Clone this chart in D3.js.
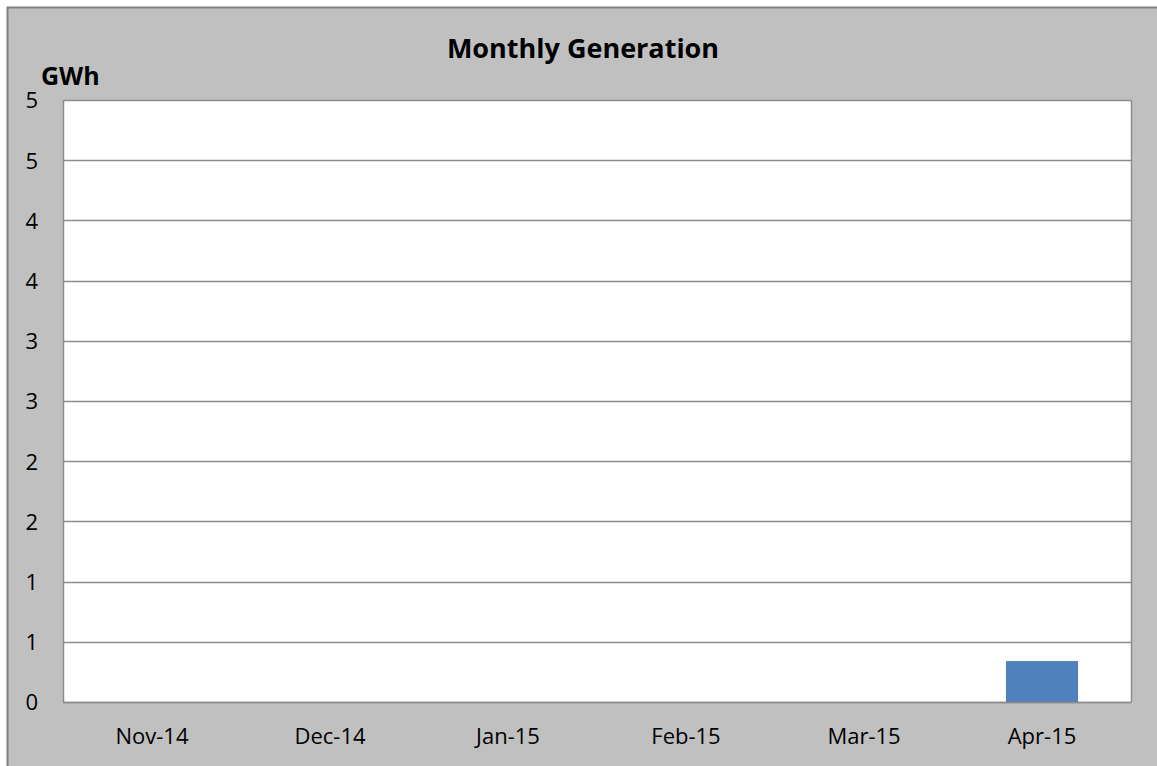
<!DOCTYPE html>
<html><head><meta charset="utf-8">
<script src="https://cdn.jsdelivr.net/npm/d3@7"></script>
<style>body{margin:0;background:#fff}svg{display:block}text{font-family:"Open Sans",sans-serif;fill:#000}</style>
</head><body><svg id="c" width="1157" height="766"></svg>
<script>
const categories = ["Nov-14","Dec-14","Jan-15","Feb-15","Mar-15","Apr-15"];
const values = [0, 0, 0, 0, 0, 0.34];
const yTicks = [0,0.5,1,1.5,2,2.5,3,3.5,4,4.5,5];
const title = "Monthly Generation";
const unit = "GWh";

const svg = d3.select("#c");
const W=1157,H=766;
svg.append("rect").attr("x",0).attr("y",0).attr("width",W).attr("height",H).attr("fill","#fff");
svg.append("rect").attr("x",7.5).attr("y",7.5).attr("width",W+10).attr("height",H+10)
  .attr("fill","#c0c0c0").attr("stroke","#808080").attr("stroke-width",2);

const m={l:63,r:1131,t:100,b:702};
const x=d3.scaleBand().domain(categories).range([m.l,m.r]).paddingInner(0.595).paddingOuter(0.2975);
const y=d3.scaleLinear().domain([0,5]).range([m.b,m.t]);

svg.append("rect").attr("x",m.l).attr("y",m.t).attr("width",m.r-m.l).attr("height",m.b-m.t).attr("fill","#fff");

svg.append("g").selectAll("line").data(yTicks).join("line")
  .attr("x1",m.l).attr("x2",m.r).attr("y1",d=>Math.round(y(d))+0.5).attr("y2",d=>Math.round(y(d))+0.5)
  .attr("stroke","#8c8c8c").attr("stroke-width",1.5);
svg.append("line").attr("x1",m.r+0.5).attr("x2",m.r+0.5).attr("y1",m.t).attr("y2",m.b).attr("stroke","#8c8c8c").attr("stroke-width",1.5);

svg.append("g").selectAll("rect").data(categories.map((c,i)=>({c,v:values[i]}))).join("rect")
  .attr("x",d=>x(d.c)).attr("width",x.bandwidth())
  .attr("y",d=>y(d.v)).attr("height",d=>y(0)-y(d.v)).attr("fill","#4f81bd");

const yAxis=d3.axisLeft(y).tickValues(yTicks).tickFormat(d=>Math.round(d)).tickSize(0).tickPadding(25);
const ga=svg.append("g").attr("transform",`translate(${m.l},0)`).call(yAxis);
ga.select(".domain").attr("stroke","#8c8c8c").attr("stroke-width",1.5);
ga.selectAll("text").attr("font-size",22).attr("fill","#000").attr("dy","0.36em");

const xAxis=d3.axisBottom(x).tickSize(0).tickPadding(26);
const gx=svg.append("g").attr("transform",`translate(0,${m.b})`).call(xAxis);
gx.select(".domain").attr("stroke","#8c8c8c").attr("stroke-width",1.5);
gx.selectAll("text").attr("font-size",22).attr("fill","#000");

svg.append("text").attr("x",583).attr("y",58).attr("text-anchor","middle").attr("font-size",27).attr("font-weight","bold").text(title);
svg.append("text").attr("x",41).attr("y",85).attr("font-size",25).attr("font-weight","bold").text(unit);
</script></body></html>
